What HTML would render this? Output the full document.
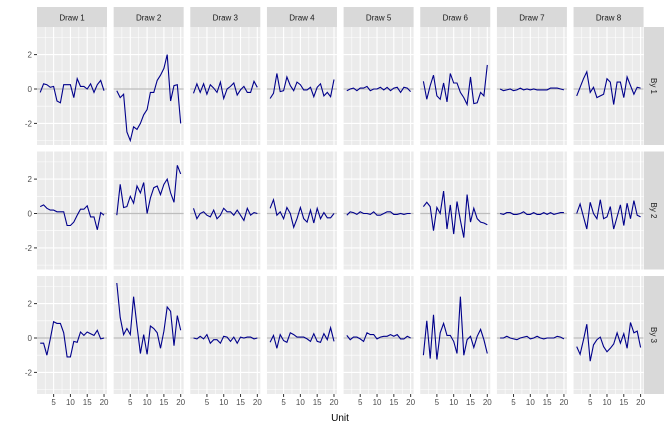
<!DOCTYPE html>
<html><head><meta charset="utf-8"><style>
body{margin:0;background:#fff;width:672px;height:432px;overflow:hidden}
svg{display:block;font-family:"Liberation Sans",sans-serif}
</style></head><body>
<svg id="s" width="672" height="432" xmlns="http://www.w3.org/2000/svg"></svg>
<script>
var D=[
[[-0.2,0.3,0.25,0.1,0.15,-0.7,-0.8,0.25,0.25,0.25,-0.5,0.6,0.15,0.15,0,0.3,-0.2,0.25,0.5,-0.1],
[-0.1,-0.5,-0.3,-2.5,-3,-2.2,-2.35,-2.0,-1.5,-1.2,-0.2,-0.2,0.5,0.8,1.2,2.0,-0.7,0.2,0.25,-2.0],
[-0.25,0.3,-0.2,0.3,-0.3,0.25,0.05,-0.2,0.4,-0.55,0.0,0.15,0.35,-0.35,-0.05,0.15,-0.2,-0.2,0.45,0.1],
[-0.55,-0.25,0.9,-0.15,-0.1,0.7,0.2,-0.1,0.4,0.25,-0.05,-0.05,0.1,-0.45,0.1,0.3,-0.4,-0.2,-0.45,0.55],
[-0.1,0.0,0.05,-0.1,0.05,0.05,0.15,-0.1,0.0,0.0,0.1,-0.05,0.1,-0.1,0.05,0.1,-0.2,0.1,0.05,-0.15],
[0.45,-0.6,0.2,0.8,-0.4,-0.6,0.35,-0.75,0.9,0.35,0.35,-0.2,-0.5,-0.9,0.7,-0.85,-0.8,-0.2,-0.4,1.4],
[0.0,-0.1,-0.05,0.0,-0.1,-0.05,0.05,-0.05,0.0,-0.05,0.0,-0.05,-0.05,-0.05,-0.05,0.05,0.05,0.05,0.0,-0.05],
[-0.4,0.1,0.6,1.0,-0.2,0.1,-0.5,-0.4,-0.3,0.6,0.4,-0.9,0.4,0.4,-0.5,0.7,0.2,-0.3,0.1,0.05]],
[[0.4,0.5,0.3,0.2,0.2,0.1,0.1,0.1,-0.7,-0.7,-0.5,-0.1,0.25,0.25,0.45,-0.2,-0.2,-0.95,0.05,-0.1],
[-0.1,1.7,0.35,0.4,1.0,0.6,1.6,1.2,1.8,0.0,0.9,1.5,1.6,1.1,1.7,2.0,1.2,0.65,2.8,2.3],
[0.3,-0.3,0.0,0.1,-0.1,-0.2,0.2,-0.3,-0.1,0.3,0.1,0.1,-0.1,0.2,-0.1,-0.4,0.3,-0.1,0.05,0.0],
[0.3,0.8,-0.1,0.1,-0.3,0.35,0.0,-0.8,-0.3,0.35,-0.3,-0.5,0.2,-0.55,0.3,-0.3,0.05,-0.25,-0.25,0.0],
[-0.1,0.1,0.05,-0.05,0.1,0.0,0.0,-0.05,0.1,-0.1,-0.1,0.0,0.1,0.1,-0.05,-0.05,0.0,-0.05,0.0,0.0],
[0.4,0.65,0.4,-1.0,0.35,0.0,1.3,-0.9,0.5,-1.2,0.7,-0.4,-1.4,1.1,-0.5,0.3,-0.3,-0.5,-0.55,-0.65],
[0.0,-0.05,0.05,0.05,-0.05,-0.05,0.0,0.1,-0.05,-0.05,0.05,-0.05,-0.05,0.05,-0.05,0.05,-0.05,0.0,0.05,0.05],
[0.0,0.55,-0.2,-0.9,0.65,0.0,-0.3,0.8,-0.3,-0.2,0.4,-0.9,-0.2,0.5,-0.7,0.6,-0.3,0.75,-0.1,-0.2]],
[[-0.3,-0.3,-1.0,-0.05,0.95,0.85,0.85,0.3,-1.1,-1.1,-0.2,-0.25,0.35,0.15,0.35,0.25,0.15,0.45,-0.05,0.0],
[3.2,1.2,0.2,0.55,0.2,2.4,0.7,-0.9,0.2,-0.95,0.7,0.55,0.3,-0.6,0.4,1.8,1.55,-0.45,1.3,0.45],
[0.0,-0.05,0.1,-0.05,0.2,-0.3,-0.1,-0.1,-0.3,0.1,0.05,-0.2,0.05,-0.3,0.05,0.0,0.05,0.05,-0.05,0.0],
[-0.25,0.15,-0.6,0.2,-0.15,-0.25,0.3,0.2,0.05,0.05,0.05,-0.05,-0.2,0.25,-0.2,-0.25,0.25,-0.1,0.6,-0.2],
[0.15,-0.1,0.05,0.05,-0.05,-0.2,0.3,0.2,0.2,-0.05,0.05,0.1,0.1,0.2,0.1,0.2,-0.05,-0.05,0.1,0.0],
[-1.0,1.0,-1.2,1.35,-1.25,0.3,0.85,0.15,0.15,-0.2,-0.9,2.4,-1.0,-0.1,0.1,-0.55,0.1,0.5,-0.1,-0.9],
[0.0,0.0,0.1,0.0,-0.05,-0.1,0.0,0.05,0.1,-0.05,0.0,0.1,0.0,-0.05,0.0,0.0,0.0,0.1,0.05,-0.05],
[-0.5,-0.95,-0.1,0.8,-1.35,-0.4,-0.1,0.05,-0.5,-0.8,-0.6,-0.35,0.3,-0.3,0.25,-0.6,0.9,0.3,0.4,-0.55]]];
var h='',W=70,H=118,tops=[27,151.5,276],K=17.2,XS=3.36;
for(var r=0;r<3;r++){var T=tops[r],z=T+62;
 for(var c=0;c<8;c++){var L=37+c*76.65;
  h+='<rect x="'+L+'" y="'+T+'" width="'+W+'" height="'+H+'" fill="#ebebeb"/>';
  for(var v=-3;v<=3;v++){var y=z-v*K;h+='<line x1="'+L+'" x2="'+(L+W)+'" y1="'+y+'" y2="'+y+'" stroke="#fff" stroke-width="'+(v%2==0?1.1:0.55)+'"/>';}
  for(var xv=2.5;xv<=20;xv+=2.5){var x=L+(xv-0.05)*XS;h+='<line x1="'+x+'" x2="'+x+'" y1="'+T+'" y2="'+(T+H)+'" stroke="#fff" stroke-width="'+(xv%5==0?1.1:0.55)+'"/>';}
  h+='<line x1="'+L+'" x2="'+(L+W)+'" y1="'+z+'" y2="'+z+'" stroke="#bdbdbd" stroke-width="1.3"/>';
  var p='';D[r][c].forEach(function(v,i){p+=(L+(i+1-0.05)*XS).toFixed(1)+','+(z-v*K).toFixed(1)+' ';});
  h+='<polyline points="'+p+'" fill="none" stroke="#00008b" stroke-width="1.1"/>';
  if(r==0){h+='<rect x="'+L+'" y="7" width="'+W+'" height="20" fill="#d9d9d9"/><text x="'+(L+W/2)+'" y="20.5" font-size="8" fill="#1a1a1a" text-anchor="middle">Draw '+(c+1)+'</text>';}
  if(r==2){[5,10,15,20].forEach(function(xv){var x=L+(xv-0.05)*XS;h+='<line x1="'+x+'" x2="'+x+'" y1="'+(T+H)+'" y2="'+(T+H+3)+'" stroke="#333"/><text x="'+x+'" y="'+(T+H+11)+'" font-size="8" fill="#4d4d4d" text-anchor="middle">'+xv+'</text>';});}
 }
 h+='<rect x="644" y="'+T+'" width="20" height="'+H+'" fill="#d9d9d9"/><text transform="translate(651,'+(T+H/2)+') rotate(90)" font-size="8" fill="#1a1a1a" text-anchor="middle">By '+(r+1)+'</text>';
 [2,0,-2].forEach(function(v){var y=z-v*K;h+='<line x1="34" x2="37" y1="'+y+'" y2="'+y+'" stroke="#333"/><text x="32" y="'+(y+3)+'" font-size="8" fill="#4d4d4d" text-anchor="end">'+v+'</text>';});
}
h+='<text x="340" y="421" font-size="10" fill="#000" text-anchor="middle">Unit</text>';
document.getElementById('s').innerHTML=h;
</script>
</body></html>
